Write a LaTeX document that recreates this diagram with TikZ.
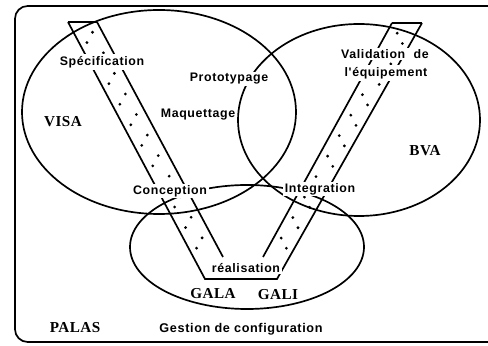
\documentclass[tikz,border=0pt]{standalone}
\usepackage{fontspec}
\newfontfamily\labsans[LetterSpace=5]{Liberation Sans}
\newfontfamily\labserif[LetterSpace=3]{Liberation Serif}
\usepackage{tikz}
\usetikzlibrary{calc}

\begin{document}
\begin{tikzpicture}[x=0.025cm, y=-0.025cm, line width=1.2pt,
          phase/.style={fill=white, inner sep=1.2pt,
            font=\labsans\bfseries\fontsize{8.8}{9}\selectfont},
          tool/.style={inner sep=1pt,
            font=\labserif\bfseries\fontsize{10.8}{11}\selectfont},
          grain/.style={fill=black}
        ]
          \useasboundingbox (0,0) rectangle (488,346);
          \draw[rounded corners=9pt] (15,6) rectangle (500,342);

          \draw (159,112) ellipse [x radius=137, y radius=102];
          \draw (359,120) ellipse [x radius=121, y radius=96];
          \draw (247,247) ellipse [x radius=117, y radius=62];

          \coordinate (lo1) at (68,22);
          \coordinate (lo2) at (205,279);
          \coordinate (li1) at (97,22);
          \coordinate (li2) at (223,257);
          \coordinate (ro1) at (422,23);
          \coordinate (ro2) at (277,279);
          \coordinate (ri1) at (392,23);
          \coordinate (ri2) at (263,257);
          \draw (lo1) -- (lo2) -- (ro2) -- (ro1);
          \draw (li1) -- (li2);
          \draw (ri1) -- (ri2);
          \draw (lo1) -- (li1);
          \draw (ri1) -- (ro1);

          \foreach \k in {1,...,22}
            \fill[grain] ($(lo1)!{\k/25}!(lo2)$) ++({8+11*mod(\k,2)},0) circle (1.1pt);
          \foreach \k in {1,...,22}
            \fill[grain] ($(ro1)!{\k/25}!(ro2)$) ++({-8-11*mod(\k,2)},0) circle (1.1pt);

          \node[phase] (spec) at (102,62) {Spécification};
          \node[phase] (proto) at (229,79) {Prototypage};
          \node[phase] (maq) at (198,115) {Maquettage};
          \node[phase] (valid) at (385,54) {Validation\hspace{6pt}de};
          \node[phase] (equip) at (386,73) {l'équipement};
          \node[phase] (concep) at (170,191) {Conception};
          \node[phase] (integ) at (320,189) {Integration};
          \node[phase] (real) at (246,268) {réalisation};
          \node[tool] (visa) at (63,122) {VISA};
          \node[tool] (bva) at (425,151) {BVA};
          \node[tool] (gala) at (213,294) {GALA};
          \node[tool] (gali) at (278,295) {GALI};
          \node[tool] (palas) at (75,328) {PALAS};
          \node[phase, font=\labsans\bfseries\fontsize{9}{10}\selectfont] (gestion) at (241,329) {Gestion de configuration};
        \end{tikzpicture}
\end{document}
